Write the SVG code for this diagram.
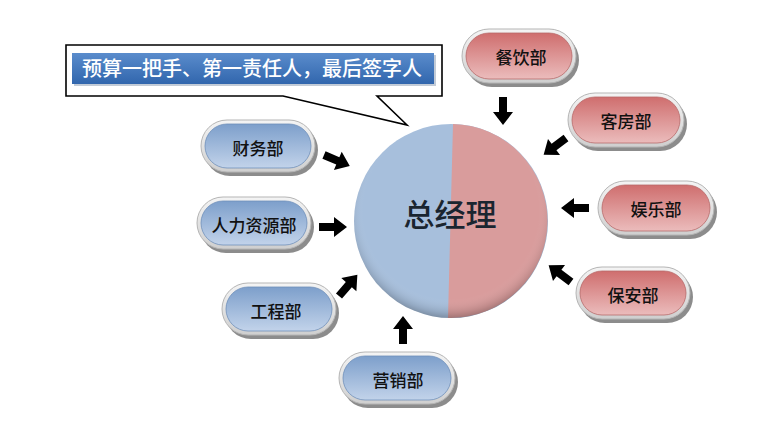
<svg xmlns="http://www.w3.org/2000/svg" width="777" height="432" viewBox="0 0 777 432">
<defs>
<linearGradient id="ring" x1="0" y1="0" x2="0" y2="1"><stop offset="0" stop-color="#f4f4f4"/><stop offset="1" stop-color="#cfcfcf"/></linearGradient>
<linearGradient id="blueFill" x1="0" y1="0" x2="0" y2="1"><stop offset="0" stop-color="#7d9fcb"/><stop offset="1" stop-color="#c2d3ea"/></linearGradient>
<linearGradient id="redFill" x1="0" y1="0" x2="0" y2="1"><stop offset="0" stop-color="#cf6e6e"/><stop offset="1" stop-color="#ebbcbc"/></linearGradient>
<linearGradient id="banner" x1="0" y1="0" x2="0" y2="1"><stop offset="0" stop-color="#5a8ccc"/><stop offset="1" stop-color="#3166ad"/></linearGradient>
<radialGradient id="bevel" cx="0.5" cy="0.45" r="0.55"><stop offset="0.82" stop-color="#fff" stop-opacity="0"/><stop offset="0.95" stop-color="#000" stop-opacity="0.12"/><stop offset="1" stop-color="#000" stop-opacity="0.25"/></radialGradient>
<path id="arr" d="M0,-4 H15 V-10 L28,0 L15,10 V4 H0 Z" fill="#000"/>
</defs>
<style>
.shadow{fill:#8c8c8c}
.ringp{fill:url(#ring);stroke:#b5b5b5;stroke-width:1}
.b{fill:url(#blueFill);stroke:#6f8fba;stroke-width:0.8}
.r{fill:url(#redFill);stroke:#b86a6a;stroke-width:0.8}
.lbl{font-family:"Noto Sans CJK SC","Noto Sans",sans-serif;font-size:17px;font-weight:500;fill:#111;text-anchor:middle;dominant-baseline:central}
</style>
<rect width="777" height="432" fill="#fff"/>

<g id="callout">
<path d="M66,45 H442 V96 H377 L407,125 L283,96 H66 Z" fill="#fff" stroke="#000" stroke-width="1.6"/>
<rect x="74" y="55" width="362" height="31" fill="#9aa9bd" opacity="0.6"/>
<rect x="72" y="53" width="362" height="31" fill="url(#banner)"/>
<text x="82" y="76" font-family="Noto Sans CJK SC, sans-serif" font-size="20" font-weight="500" fill="#fff">预算一把手、第一责任人，最后签字人</text>
</g>

<g id="center">
<circle cx="451" cy="221" r="97" fill="#a7bfdc"/>
<path d="M453,124 A97,97 0 0 1 448,318 Z" fill="#d99c9c"/>
<circle cx="451" cy="221" r="97" fill="url(#bevel)"/>
<text x="450" y="212" font-family="Noto Sans CJK SC, sans-serif" font-size="31" font-weight="500" fill="#1a2530" text-anchor="middle" dominant-baseline="central">总经理</text>
</g>

<g id="n-caiwu">
<rect x="204" y="124" width="114" height="52" rx="26" class="shadow"/>
<rect x="201" y="120" width="114" height="52" rx="26" class="ringp"/>
<rect x="205" y="124" width="106" height="44" rx="22" class="b"/>
<text x="258" y="147" class="lbl">财务部</text>
</g>
<g id="n-renli">
<rect x="200" y="201" width="114" height="52" rx="26" class="shadow"/>
<rect x="197" y="197" width="114" height="52" rx="26" class="ringp"/>
<rect x="201" y="201" width="106" height="44" rx="22" class="b"/>
<text x="254" y="224" class="lbl">人力资源部</text>
</g>
<g id="n-gongcheng">
<rect x="225" y="287" width="114" height="52" rx="26" class="shadow"/>
<rect x="222" y="283" width="114" height="52" rx="26" class="ringp"/>
<rect x="226" y="287" width="106" height="44" rx="22" class="b"/>
<text x="276" y="310" class="lbl">工程部</text>
</g>
<g id="n-yingxiao">
<rect x="342" y="356" width="116" height="52" rx="26" class="shadow"/>
<rect x="339" y="352" width="116" height="52" rx="26" class="ringp"/>
<rect x="343" y="356" width="108" height="44" rx="22" class="b"/>
<text x="398" y="379" class="lbl">营销部</text>
</g>
<g id="n-canyin">
<rect x="465" y="33" width="114" height="54" rx="27" class="shadow"/>
<rect x="462" y="29" width="114" height="54" rx="27" class="ringp"/>
<rect x="466" y="33" width="106" height="46" rx="23" class="r"/>
<text x="521" y="56" class="lbl">餐饮部</text>
</g>
<g id="n-kefang">
<rect x="571" y="97" width="116" height="54" rx="27" class="shadow"/>
<rect x="568" y="93" width="116" height="54" rx="27" class="ringp"/>
<rect x="572" y="97" width="108" height="46" rx="23" class="r"/>
<text x="626" y="120" class="lbl">客房部</text>
</g>
<g id="n-yule">
<rect x="601" y="185" width="116" height="54" rx="27" class="shadow"/>
<rect x="598" y="181" width="116" height="54" rx="27" class="ringp"/>
<rect x="602" y="185" width="108" height="46" rx="23" class="r"/>
<text x="656" y="208" class="lbl">娱乐部</text>
</g>
<g id="n-baoan">
<rect x="579" y="271" width="114" height="52" rx="26" class="shadow"/>
<rect x="576" y="267" width="114" height="52" rx="26" class="ringp"/>
<rect x="580" y="271" width="106" height="44" rx="22" class="r"/>
<text x="633" y="294" class="lbl">保安部</text>
</g>

<g id="connectors">
<use href="#arr" transform="translate(324,155) rotate(23)"/>
<use href="#arr" transform="translate(319,227)"/>
<use href="#arr" transform="translate(339,296) rotate(-49)"/>
<use href="#arr" transform="translate(403,344) rotate(-90)"/>
<use href="#arr" transform="translate(503,97) rotate(90)"/>
<use href="#arr" transform="translate(566,138) rotate(143)"/>
<use href="#arr" transform="translate(589,208) rotate(180)"/>
<use href="#arr" transform="translate(571,282) rotate(217)"/>
</g>
</svg>
